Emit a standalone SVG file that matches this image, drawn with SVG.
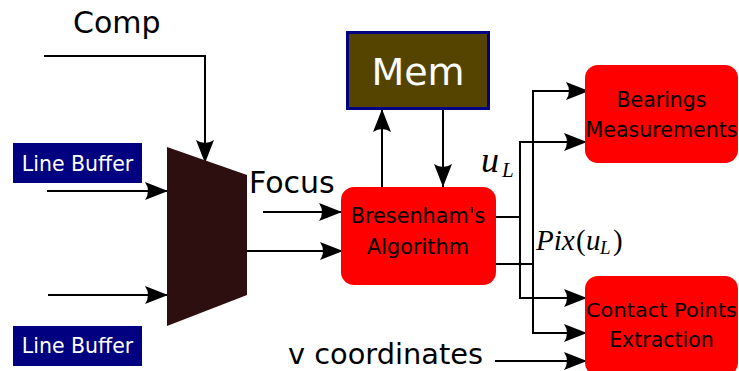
<svg xmlns="http://www.w3.org/2000/svg" width="739" height="371" viewBox="0 0 739 371">
<style>
.ln{fill:none;stroke:#000;stroke-width:2}
.lbl{font-family:"DejaVu Sans",sans-serif;fill:#000}
.wt{font-family:"DejaVu Sans",sans-serif;fill:#fff}
.red{fill:#ff0000}
.math{font-family:"Liberation Serif",serif;font-style:italic;fill:#000}
.up{font-family:"Liberation Serif",serif;fill:#000}
</style>
<defs>
<marker id="ah" viewBox="-24 -10 25 20" refX="0" refY="0" markerWidth="25" markerHeight="20" markerUnits="userSpaceOnUse" orient="auto">
<path d="M0,0 L-23,-9 Q-17,0 -23,9 Z" fill="#000"/>
</marker>
</defs>
<rect width="739" height="371" fill="#fff"/>
<g id="connectors">
<path class="ln" d="M44,56 H205 V163" marker-end="url(#ah)"/>
<path class="ln" d="M47,191 H168" marker-end="url(#ah)"/>
<path class="ln" d="M48,295 H168" marker-end="url(#ah)"/>
<path class="ln" d="M263,212 H342" marker-end="url(#ah)"/>
<path class="ln" d="M247,251 H343" marker-end="url(#ah)"/>
<path class="ln" d="M382,187 V109" marker-end="url(#ah)"/>
<path class="ln" d="M443,109 V187" marker-end="url(#ah)"/>
<path class="ln" d="M496,217 H520 V142 H587" marker-end="url(#ah)"/>
<path class="ln" d="M520,217 V298 H587" marker-end="url(#ah)"/>
<path class="ln" d="M496,264 H533 V91 H589" marker-end="url(#ah)"/>
<path class="ln" d="M533,264 V333 H587" marker-end="url(#ah)"/>
<path class="ln" d="M495,361 H587" marker-end="url(#ah)"/>
</g>
<g id="comp-label"><text class="lbl" x="73" y="33" font-size="30">Comp</text></g>
<g id="focus-label"><text class="lbl" x="249" y="193" font-size="30">Focus</text></g>
<g id="vcoord-label"><text class="lbl" x="288" y="364" font-size="28.5" textLength="195" lengthAdjust="spacingAndGlyphs">v coordinates</text></g>
<g id="mux"><polygon points="167,147 247,175 247,295 167,326" fill="#2d0f0f"/></g>
<g id="linebuffer-top">
<rect x="13" y="143" width="129" height="40" fill="#000080"/>
<text class="wt" x="77.5" y="171" font-size="20.5" text-anchor="middle">Line Buffer</text>
</g>
<g id="linebuffer-bottom">
<rect x="13" y="326" width="129" height="40" fill="#000080"/>
<text class="wt" x="77.5" y="353" font-size="20.5" text-anchor="middle">Line Buffer</text>
</g>
<g id="mem">
<rect x="347.5" y="32.5" width="141" height="76" fill="#554400" stroke="#000080" stroke-width="3"/>
<text class="wt" x="418" y="85" font-size="38" text-anchor="middle">Mem</text>
</g>
<g id="bresenham">
<rect class="red" x="341" y="187" width="155" height="98" rx="13"/>
<text class="lbl" x="418" y="223" font-size="20.8" text-anchor="middle">Bresenham's</text>
<text class="lbl" x="418" y="254" font-size="20.8" text-anchor="middle">Algorithm</text>
</g>
<g id="bearings">
<rect class="red" x="585" y="65" width="153" height="98" rx="13"/>
<text class="lbl" x="661.5" y="107" font-size="20.5" text-anchor="middle">Bearings</text>
<text class="lbl" x="661.5" y="137" font-size="20.5" text-anchor="middle" textLength="152" lengthAdjust="spacingAndGlyphs">Measurements</text>
</g>
<g id="contact">
<rect class="red" x="585" y="276" width="153" height="100" rx="13"/>
<text class="lbl" x="661.5" y="317" font-size="20" text-anchor="middle" textLength="151" lengthAdjust="spacingAndGlyphs">Contact Points</text>
<text class="lbl" x="661.5" y="347" font-size="20.5" text-anchor="middle">Extraction</text>
</g>
<g id="uL-label">
<text class="math" x="481" y="172" font-size="36">u</text>
<text class="math" x="502" y="177" font-size="21">L</text>
</g>
<g id="pix-label">
<text class="math" x="536" y="250" font-size="29">Pix</text>
<text class="up" x="576" y="250" font-size="29">(</text>
<text class="math" x="586" y="250" font-size="29">u</text>
<text class="math" x="600" y="254" font-size="19">L</text>
<text class="up" x="613" y="250" font-size="29">)</text>
</g>
</svg>
